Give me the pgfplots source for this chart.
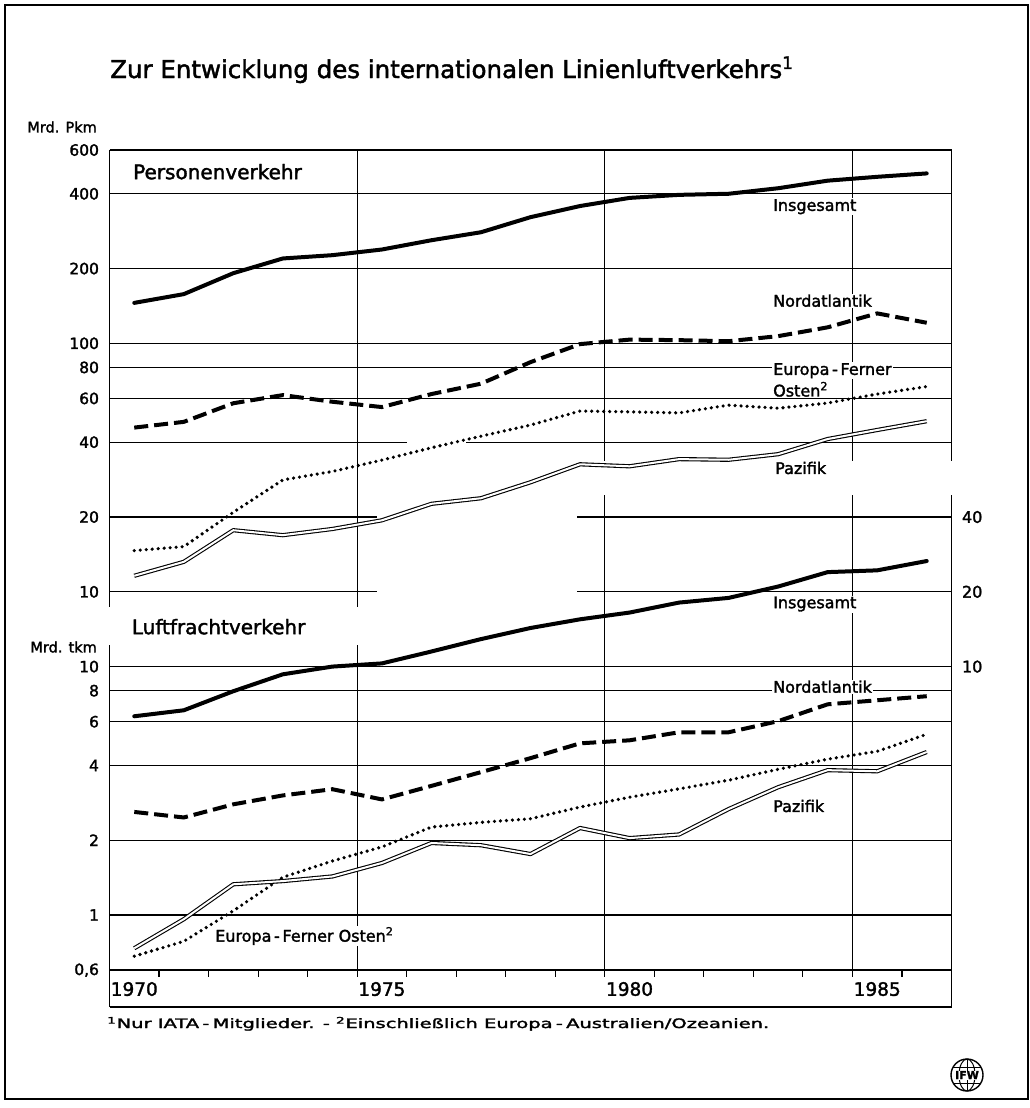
\documentclass[border=0pt]{standalone}
\usepackage{pgfplots}
\pgfplotsset{compat=1.18}
\usepackage{pgfplotstable}
\usepackage{graphicx}
\usepackage{fontspec}
\setmainfont{DejaVu Sans}[FakeBold=1.8]

% Passenger traffic, bn passenger-km
\pgfplotstableread{
year ins na eu pa
1970 145.5 45.8 14.65 11.6
1971 157.8 48.3 15.2 13.2
1972 191.6 57.4 20.9 17.7
1973 219.6 61.9 28.2 16.9
1974 226.4 58.2 30.5 17.9
1975 238.6 55.4 33.9 19.4
1976 260 62.5 38.0 22.6
1977 280 68.8 42.3 23.8
1978 322 84.0 46.9 27.6
1979 357 99.3 53.4 32.6
1980 385 103.5 53.0 32.0
1981 396 103.0 52.5 34.2
1982 400 102.0 56.4 34.0
1983 421 106.9 54.8 35.8
1984 451.6 116.0 57.5 41.2
1985 468 132.0 62.5 44.8
1986 483 121.0 67.0 48.6
}\pkm

% Air freight, bn tonne-km
\pgfplotstableread{
year ins na eu pa
1970 6.31 2.60 0.683 0.735
1971 6.67 2.47 0.784 0.962
1972 7.96 2.79 1.04 1.33
1973 9.31 3.03 1.42 1.37
1974 10.0 3.21 1.65 1.43
1975 10.3 2.92 1.88 1.62
1976 11.5 3.31 2.26 1.95
1977 12.9 3.76 2.36 1.91
1978 14.3 4.28 2.44 1.76
1979 15.5 4.91 2.72 2.24
1980 16.5 5.05 2.98 2.04
1981 18.1 5.44 3.22 2.11
1982 18.9 5.44 3.49 2.67
1983 21.0 6.03 3.86 3.27
1984 24.0 7.05 4.24 3.83
1985 24.4 7.32 4.56 3.79
1986 26.6 7.60 5.34 4.53
}\tkm

\tikzset{
  grd/.style={black, line width=1.1pt},
  frm/.style={black, line width=1.6pt},
  lbl/.style={font=\fontsize{16}{16}\selectfont, fill=white, inner sep=1pt, anchor=west},
}

\begin{document}
\begin{tikzpicture}
\path[use as bounding box] (0pt,0pt) rectangle (1030pt,-1108pt);

\begin{axis}[
  at={(109.5pt,-1006.7pt)}, anchor=south west,
  scale only axis, width=842pt, height=856.7pt,
  xmin=1970, xmax=1987,
  ymode=log, ymin=0.2138, ymax=600,
  axis line style={draw=none},
  major tick length=0pt,
  xtick=\empty,
  ytick={600,400,200,100,80,60,40,20,10,5,4,3,2,1,0.5,0.3},
  yticklabels={600,400,200,100,80,60,40,20,10,10,8,6,4,2,1,{0,6}},
  yticklabel style={font=\fontsize{15.5}{15.5}\selectfont, xshift=-7pt},
  yminorticks=false, xminorticks=false,
  clip=false,
  /pgf/number format/assume math mode=true,
]
% ---- horizontal grid lines
\foreach \v in {400,200,100,80,60,5,4,3,2,1,0.5,0.3}{
  \edef\tmp{\noexpand\draw[grd] (axis cs:1970,\v) -- (axis cs:1987,\v);}\tmp
}
\draw[grd] (axis cs:1970,40) -- (axis cs:1976.0,40);
\draw[grd] (axis cs:1977.2,40) -- (axis cs:1987,40);
\draw[grd] (axis cs:1970,20) -- (axis cs:1975.4,20);
\draw[grd] (axis cs:1979.44,20) -- (axis cs:1987,20);
\draw[grd] (axis cs:1970,10) -- (axis cs:1975.4,10);
\draw[grd] (axis cs:1979.44,10) -- (axis cs:1987,10);
% ---- vertical grid lines
\draw[grd] (axis cs:1975,600) -- (axis cs:1975,8.68);
\draw[grd] (axis cs:1975,6.10) -- (axis cs:1975,0.3);
\draw[grd] (axis cs:1980,600) -- (axis cs:1980,33.6);
\draw[grd] (axis cs:1980,24.5) -- (axis cs:1980,0.3);
\draw[grd] (axis cs:1985,600) -- (axis cs:1985,33.6);
\draw[grd] (axis cs:1985,24.5) -- (axis cs:1985,0.3);
% ---- frame of the plot
\draw[frm] (axis cs:1970,600) -- (axis cs:1987,600);
\draw[frm] (axis cs:1970,0.2138) -- (axis cs:1987,0.2138);
\draw[frm] (axis cs:1970,0.3) -- (axis cs:1987,0.3);
\draw[frm] (axis cs:1970,600) -- (axis cs:1970,8.68);
\draw[frm] (axis cs:1970,6.10) -- (axis cs:1970,0.2138);
\draw[frm] (axis cs:1987,600) -- (axis cs:1987,33.6);
\draw[frm] (axis cs:1987,24.5) -- (axis cs:1987,0.2138);
% ---- year ticks
\foreach \yr in {1971,...,1986}{
  \edef\tmp{\noexpand\draw[grd] (axis cs:\yr,0.3) -- (axis cs:\yr,0.2815);}\tmp
}
% ---- year labels
\foreach \yr in {1970,1975,1980,1985}{
  \edef\tmp{\noexpand\node[font=\noexpand\fontsize{18.5}{18.5}\noexpand\selectfont] at (axis cs:\yr.5,0.2518) {\yr};}\tmp
}
% ---- right scale (Luftfracht insgesamt)
\node[anchor=west, font=\fontsize{16}{16}\selectfont, xshift=7pt] at (axis cs:1987,20) {40};
\node[anchor=west, font=\fontsize{16}{16}\selectfont, xshift=7pt] at (axis cs:1987,10) {20};
\node[anchor=west, font=\fontsize{16}{16}\selectfont, xshift=7pt] at (axis cs:1987,5) {10};

% ---- Personenverkehr
\addplot[black, line width=4pt, line join=round, line cap=round]
  table[x expr=\thisrow{year}+0.5, y=ins] {\pkm};
\addplot[black, line width=4pt, dash pattern=on 14pt off 6pt]
  table[x expr=\thisrow{year}+0.5, y=na] {\pkm};
\addplot[black, line width=3.6pt, line cap=round, dash pattern=on 0pt off 6pt]
  table[x expr=\thisrow{year}+0.5, y=eu] {\pkm};
\addplot[black, line width=1.1pt, double=white, double distance=2pt, line join=round]
  table[x expr=\thisrow{year}+0.5, y=pa] {\pkm};
% ---- Luftfrachtverkehr (tkm scale, offset by factor 2)
\addplot[black, line width=4pt, line join=round, line cap=round]
  table[x expr=\thisrow{year}+0.5, y expr=\thisrow{ins}/2] {\tkm};
\addplot[black, line width=4pt, dash pattern=on 14pt off 6pt]
  table[x expr=\thisrow{year}+0.5, y expr=\thisrow{na}/2] {\tkm};
\addplot[black, line width=3.6pt, line cap=round, dash pattern=on 0pt off 6pt]
  table[x expr=\thisrow{year}+0.5, y expr=\thisrow{eu}/2] {\tkm};
\addplot[black, line width=1.1pt, double=white, double distance=2pt, line join=round]
  table[x expr=\thisrow{year}+0.5, y expr=\thisrow{pa}/2] {\tkm};
\end{axis}

% ---- outer frame, title, texts (pixel coordinates)
\draw[line width=2pt] (5pt,-5pt) rectangle (1028pt,-1099pt);
\node[anchor=base west, inner sep=0pt, font=\fontsize{24.5}{24.5}\selectfont] at (110pt,-78pt)
  {Zur Entwicklung des internationalen Linienluftverkehrs\textsuperscript{1}};
\node[anchor=east, inner sep=0pt, font=\fontsize{14.5}{14.5}\selectfont] at (97pt,-127pt) {Mrd. Pkm};
\node[anchor=east, inner sep=0pt, font=\fontsize{14.5}{14.5}\selectfont] at (97pt,-647pt) {Mrd. tkm};
\node[anchor=west, inner sep=0pt, font=\fontsize{20}{20}\selectfont] at (133pt,-171.7pt) {Personenverkehr};
\node[anchor=west, inner sep=0pt, font=\fontsize{20}{20}\selectfont] at (131.7pt,-626.7pt) {Luftfrachtverkehr};

\node[lbl] at (772pt,-206.7pt) {Insgesamt};
\node[lbl] at (772pt,-300.7pt) {Nordatlantik};
\node[lbl] at (772pt,-370.7pt) {Europa\,-\,Ferner};
\node[lbl] at (772pt,-389.3pt) {Osten\textsuperscript{2}};
\node[lbl] at (774pt,-468pt) {Pazifik};
\node[lbl] at (772pt,-604pt) {Insgesamt};
\node[lbl] at (772pt,-686.7pt) {Nordatlantik};
\node[lbl] at (772pt,-806pt) {Pazifik};
\node[lbl] at (214pt,-936pt) {Europa\,-\,Ferner Osten\textsuperscript{2}};

\node[anchor=base west, inner sep=0pt, font=\fontsize{13}{13}\selectfont] at (107pt,-1028pt)
  {\scalebox{1.5}[1]{\textsuperscript{1}Nur IATA\,-\,Mitglieder. - \textsuperscript{2}Einschließlich Europa\,-\,Australien/Ozeanien.}};

% ---- logo
\begin{scope}[shift={(967pt,-1075pt)}]
  \draw[line width=1.4pt] (0,0) circle (16pt);
  \draw[line width=1pt] (0,0) ellipse (8pt and 16pt);
  \draw[line width=1pt] (0,16pt) -- (0,-16pt);
  \draw[line width=1pt] (-14pt,8pt) -- (14pt,8pt);
  \draw[line width=1pt] (-14pt,-8pt) -- (14pt,-8pt);
  \node[fill=white, inner sep=0.5pt, font=\bfseries\fontsize{11}{11}\selectfont] at (0,0) {IFW};
\end{scope}
\end{tikzpicture}
\end{document}
